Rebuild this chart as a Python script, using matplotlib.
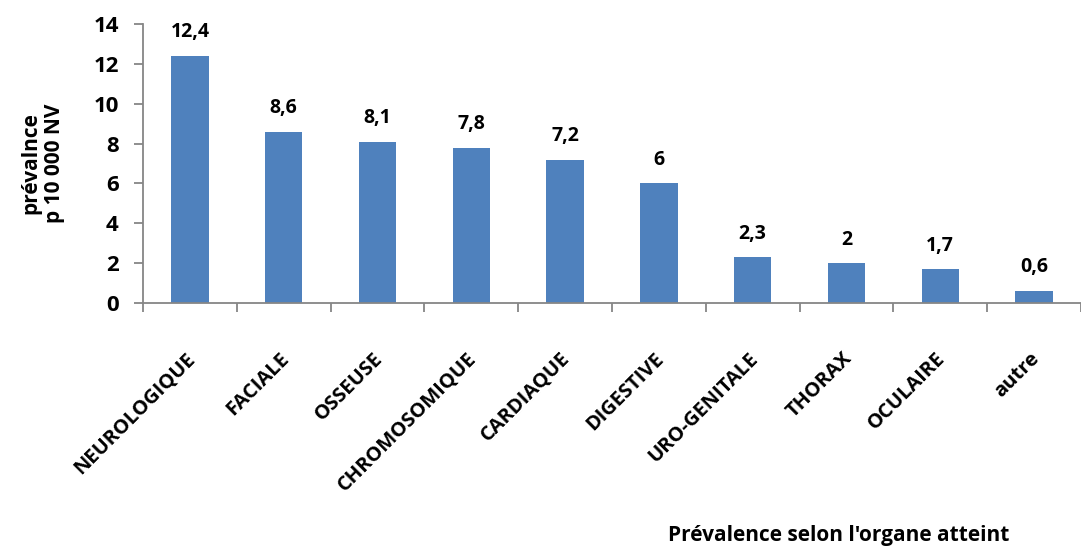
import numpy as np
import matplotlib
matplotlib.use("Agg")
import matplotlib.pyplot as plt

categories = ["NEUROLOGIQUE", "FACIALE", "OSSEUSE", "CHROMOSOMIQUE", "CARDIAQUE",
              "DIGESTIVE", "URO-GENITALE", "THORAX", "OCULAIRE", "autre"]
values = [12.4, 8.6, 8.1, 7.8, 7.2, 6, 2.3, 2, 1.7, 0.6]
value_labels = ["12,4", "8,6", "8,1", "7,8", "7,2", "6", "2,3", "2", "1,7", "0,6"]
yticks = [0, 2, 4, 6, 8, 10, 12, 14]

plt.rcParams['font.family'] = ['Open Sans', 'DejaVu Sans']
plt.rcParams['font.weight'] = 'bold'

fig = plt.figure(figsize=(10.81, 5.49), dpi=100)
W, H = 1081.0, 549.0
# axes in pixel coords: left 143, right ~1091 (cut by figure edge), top 24, bottom 303
ax = fig.add_axes([143 / W, (H - 303) / H, (1081 - 143) / W, 279 / H])

x = np.arange(len(categories))
ax.bar(x, values, width=0.4, color='#4F81BD', zorder=2)

for xi, v, lab in zip(x, values, value_labels):
    ax.annotate(lab, (xi, v), xytext=(0, 17), textcoords='offset points',
                ha='center', va='center', fontsize=14, fontweight='bold')

ax.set_xlim(-0.5, -0.5 + (1081 - 143) / 94.8)
ax.set_ylim(0, 14)
ax.set_yticks(yticks)
ax.set_yticklabels([str(t) for t in yticks], fontsize=16, fontweight='bold')

# category labels at bar centers, tick marks at category boundaries
ax.set_xticks(x - 0.05)
ax.set_xticklabels(categories, rotation=45, ha='right', rotation_mode='anchor',
                   fontsize=14.5, fontweight='bold')
ax.tick_params(axis='x', which='major', length=0, pad=33)
ax.set_xticks(np.arange(-0.5, len(categories), 1.0), minor=True)
ax.tick_params(axis='x', which='minor', length=6.5, width=1.3, color='#868686', direction='out')
ax.tick_params(axis='y', length=6.5, width=1.3, color='#868686', direction='out', pad=11)

for s in ['top', 'right']:
    ax.spines[s].set_visible(False)
for s in ['left', 'bottom']:
    ax.spines[s].set_color('#868686')
    ax.spines[s].set_linewidth(1.3)

fig.text(43 / W, 1 - 163 / H, "prévalnce\np 10 000 NV", rotation=90, ha='center', va='center',
         fontsize=15, fontweight='bold', linespacing=1.15)
fig.text(839 / W, 1 - 536 / H, "Prévalence selon l'organe atteint", ha='center', va='center',
         fontsize=15, fontweight='bold')

fig.savefig('out.png', dpi=100)
